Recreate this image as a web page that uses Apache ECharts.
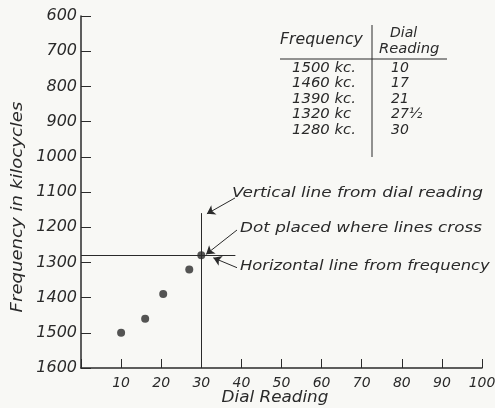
<!DOCTYPE html>
<html>
<head>
<meta charset="utf-8">
<script src="https://cdn.jsdelivr.net/npm/echarts@6/dist/echarts.min.js"></script>
<style>
  html, body { margin: 0; padding: 0; background: #f8f8f5; }
  #main { width: 495px; height: 408px; }
</style>
</head>
<body>
<div id="main"></div>
<script>
// точки, нанесённые на график
const dotDial = [10, 16, 20.5, 27, 30];
const dotFreq = [1500, 1460, 1390, 1320, 1280];

// таблица в правом верхнем углу
const tableFreq = ['1500 kc.', '1460 kc.', '1390 kc.', '1320 kc', '1280 kc.'];
const tableDial = ['10', '17', '21', '27½', '30'];

// линии построения
const crossDial = 30;
const crossFreq = 1280;
const vLineTop = 1160;
const hLineEnd = 38.5;

const ink = '#2a2a2a';
const font = 'DejaVu Sans';

let container = document.getElementById('main');
let chart = echarts.init(container, null, {renderer: 'canvas'});

function txt(text, x, y, size, opts) {
    return Object.assign({
        type: 'text', x: x, y: y,
        style: {text: text, font: 'italic ' + size + 'px ' + font, fill: ink, verticalAlign: 'middle'}
    }, opts || {});
}

let graphic = [];
// заголовок таблицы
graphic.push(txt('Frequency', 280, 40, 15, {scaleX: 1.05}));
graphic.push(txt('Dial', 390, 33, 14));
graphic.push(txt('Reading', 379, 49, 14, {scaleX: 1.05}));
graphic.push({type: 'line', shape: {x1: 280, y1: 59, x2: 447, y2: 59}, style: {stroke: ink, lineWidth: 1}});
graphic.push({type: 'line', shape: {x1: 372, y1: 25, x2: 372, y2: 157}, style: {stroke: ink, lineWidth: 1}});
tableFreq.forEach((t, i) => {
    graphic.push(txt(t, 292, 68 + i * 15.5, 14, {scaleX: 1.06}));
    graphic.push(txt(tableDial[i], 391, 68 + i * 15.5, 14));
});
// подписи-пояснения
graphic.push(txt('Vertical line from dial reading', 232, 193, 14, {scaleX: 1.21}));
graphic.push(txt('Dot placed where lines cross', 240, 228, 14, {scaleX: 1.2}));
graphic.push(txt('Horizontal line from frequency', 240, 266, 14, {scaleX: 1.17}));
// подписи осей
graphic.push({
    type: 'text', x: 18, y: 207, rotation: Math.PI / 2, scaleX: 1.13,
    style: {text: 'Frequency in kilocycles', font: 'italic 16px ' + font, fill: ink, align: 'center', verticalAlign: 'middle'}
});
graphic.push({
    type: 'text', x: 275, y: 398, scaleX: 1.05,
    style: {text: 'Dial Reading', font: 'italic 16px ' + font, fill: ink, align: 'center', verticalAlign: 'middle'}
});

chart.setOption({
    backgroundColor: '#f8f8f5',
    animation: false,
    grid: {left: 81, right: 13, top: 16, bottom: 40, outerBoundsMode: 'none'},
    xAxis: {
        type: 'value',
        min: 0,
        max: 100,
        interval: 10,
        axisLine: {show: true, lineStyle: {color: ink, width: 1.5}},
        axisTick: {show: true, inside: true, length: 9, lineStyle: {color: ink}},
        axisLabel: {
            fontFamily: font, fontStyle: 'italic', fontSize: 14, color: ink, margin: 8,
            formatter: v => v === 0 ? '' : String(v)
        },
        splitLine: {show: false}
    },
    yAxis: {
        type: 'value',
        inverse: true,
        min: 600,
        max: 1600,
        interval: 100,
        axisLine: {show: true, lineStyle: {color: ink, width: 1.5}},
        axisTick: {show: true, inside: true, length: 10, lineStyle: {color: ink}},
        axisLabel: {
            fontFamily: font, fontStyle: 'italic', fontSize: 16, color: ink, margin: 4,
            formatter: v => String(v)
        },
        splitLine: {show: false}
    },
    series: [
        {
            type: 'scatter',
            symbolSize: 8,
            itemStyle: {color: ink},
            data: dotDial.map((d, i) => [d, dotFreq[i]]),
            markLine: {
                silent: true,
                symbol: ['none', 'none'],
                label: {show: false},
                lineStyle: {color: ink, width: 1, type: 'solid'},
                data: [
                    [{coord: [crossDial, vLineTop]}, {coord: [crossDial, 1600]}],
                    [{coord: [0, crossFreq]}, {coord: [hLineEnd, crossFreq]}],
                    [{coord: [38.4, 1117], symbol: 'none'}, {coord: [31.4, 1162], symbol: 'arrow', symbolSize: 8}],
                    [{coord: [38.9, 1208], symbol: 'none'}, {coord: [31.2, 1277], symbol: 'arrow', symbolSize: 8}],
                    [{coord: [38.9, 1315], symbol: 'none'}, {coord: [33, 1287], symbol: 'arrow', symbolSize: 8}]
                ]
            }
        }
    ],
    graphic: graphic
});
</script>
</body>
</html>
